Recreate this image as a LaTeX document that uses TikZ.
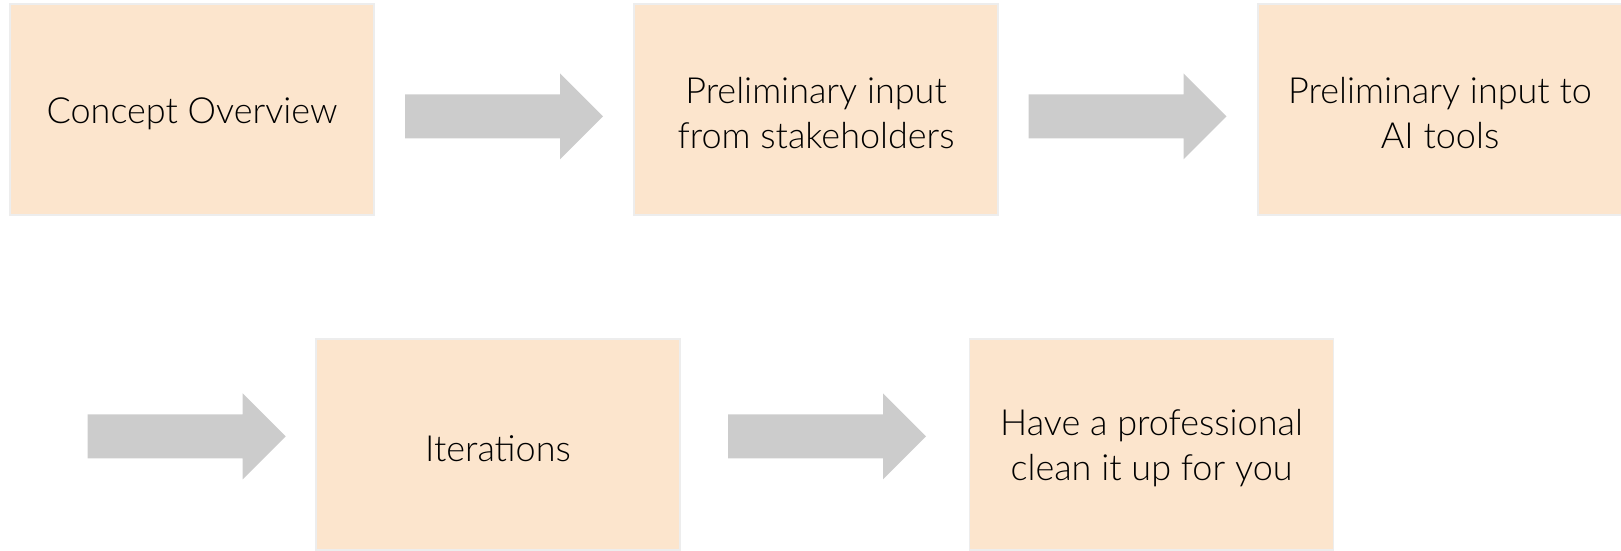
\documentclass[tikz,border=0pt]{standalone}
\usepackage{fontspec}
\IfFontExistsTF{Lato Light}{\setmainfont{Lato Light}}{\setmainfont{Liberation Sans}}
\definecolor{boxfill}{HTML}{FCE5CD}
\definecolor{boxline}{HTML}{EDEDED}
\definecolor{arrowfill}{HTML}{CCCCCC}
\begin{document}
\begin{tikzpicture}[x=1pt,y=-1pt,
  stepbox/.style={draw=boxline, line width=1.2pt, fill=boxfill, minimum width=364pt, minimum height=211pt,
    inner sep=0pt},
  steptext/.style={inner sep=0pt, align=center, font=\fontsize{36}{45}\selectfont, text=black},
  blockarrow/.style={fill=arrowfill, draw=none}]
\useasboundingbox (0,0) rectangle (1621,550);
\begin{scope}
\clip (0,0) rectangle (1621,550);
\node[stepbox] (b1) at (192,109.5) {};
\node[stepbox] (b2) at (816,109.5) {};
\node[stepbox] (b3) at (1440,109.5) {};
\node[stepbox] (b4) at (498,444.5) {};
\node[stepbox] (b5) at (1151.5,444.5) {};
\end{scope}
\node[steptext] (t1) at ([yshift=-4pt]b1.center) {Concept Overview};
\node[steptext] (t2) at ([yshift=-4pt]b2.center) {Preliminary input\\from stakeholders};
\node[steptext] (t3) at ([yshift=-4pt]b3.center) {Preliminary input to\\AI tools};
\node[steptext] (t4) at ([yshift=-4pt]b4.center) {Iterations};
\node[steptext] (t5) at ([yshift=-4pt]b5.center) {Have a professional\\clean it up for you};
% block arrows: (start x, centre y)
\coordinate (a1) at (405,116.3);
\coordinate (a2) at (1028.5,116.3);
\coordinate (a3) at (87.7,436.3);
\coordinate (a4) at (728,436.3);
\foreach \c in {a1,a2,a3,a4}{
  \fill[blockarrow] ([yshift=22pt]\c) -- ++(155,0) -- ++(0,-21) -- ++(43,43) -- ++(-43,43) -- ++(0,-21) -- ++(-155,0) -- cycle;
}
\end{tikzpicture}
\end{document}
